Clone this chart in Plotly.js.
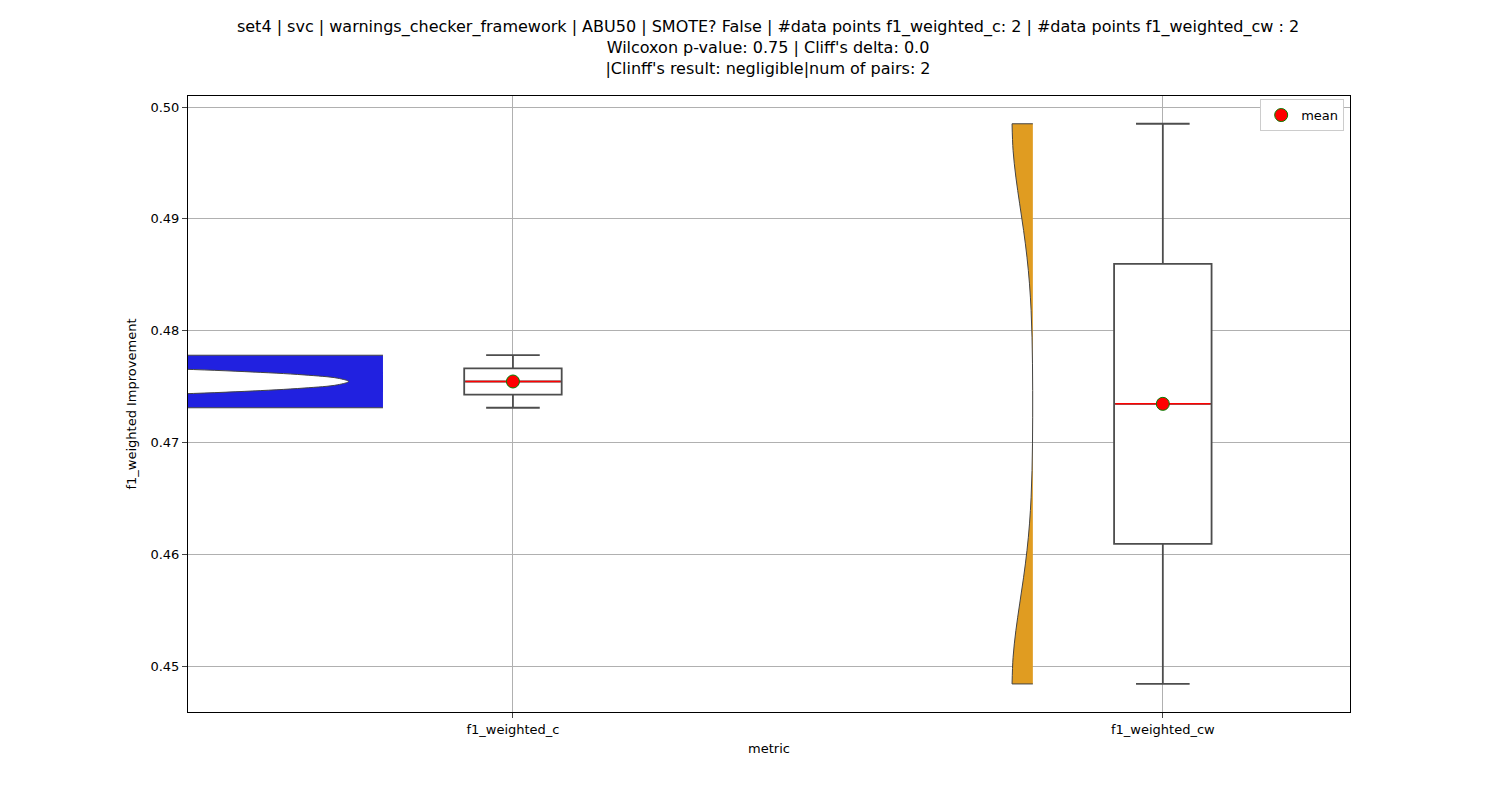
<!DOCTYPE html>
<html><head><meta charset="utf-8">
<script src="https://cdn.plot.ly/plotly-3.0.1.min.js"></script>
<style>body{margin:0}</style></head>
<body><div id="figure" style="width:1500px;height:800px"></div>
<script>
FIGURE = document.getElementById('figure')

let categories = ['f1_weighted_c', 'f1_weighted_cw']
let valuesC = [0.4731, 0.4778]
let valuesCW = [0.4484, 0.4985]
let colours = ['#2121e0', '#e09c21']

function mean(a) { return a.reduce((s, v) => s + v, 0) / a.length }
// linear-interpolated quantile, same as numpy default
function quantile(a, p) {
    let s = [...a].sort((u, v) => u - v)
    let h = (s.length - 1) * p, lo = Math.floor(h), hi = Math.ceil(h)
    return s[lo] + (h - lo) * (s[hi] - s[lo])
}

let series = [valuesC, valuesCW]
let traces = []
series.forEach((vals, i) => {
    traces.push({
        type: 'violin', x: vals.map(() => i - 0.2), y: vals, side: 'negative',
        width: i == 0 ? 1.6 : 0.064, bandwidth: i == 0 ? 0.0009 : 0.0075,
        spanmode: 'hard', points: false, fillcolor: colours[i],
        line: {color: '#444', width: 1}, opacity: 1,
        box: {visible: false}, meanline: {visible: false},
        showlegend: false, hoverinfo: 'skip'
    })
    traces.push({
        type: 'box', x: [i], q1: [quantile(vals, 0.25)], median: [quantile(vals, 0.5)],
        q3: [quantile(vals, 0.75)], lowerfence: [Math.min(...vals)], upperfence: [Math.max(...vals)],
        width: 0.15, whiskerwidth: 0.55,
        fillcolor: 'white', line: {color: '#4d4d4d', width: 1.8},
        showlegend: false
    })
    traces.push({
        type: 'scatter', mode: 'lines', x: [i - 0.073, i + 0.073],
        y: [quantile(vals, 0.5), quantile(vals, 0.5)], line: {color: 'red', width: 1.5},
        showlegend: false, hoverinfo: 'skip'
    })
    traces.push({
        type: 'scatter', mode: 'markers', x: [i], y: [mean(vals)], name: 'mean',
        marker: {color: 'red', size: 13, line: {color: 'green', width: 1}},
        showlegend: i == 0
    })
})

let layout = {
    width: 1500, height: 800,
    margin: {l: 188, r: 150, t: 96, b: 88},
    paper_bgcolor: 'white', plot_bgcolor: 'white',
    font: {family: 'DejaVu Sans', size: 13, color: 'black'},
    title: {
        text: 'set4 | svc | warnings_checker_framework | ABU50 | SMOTE? False | #data points f1_weighted_c: 2 | #data points f1_weighted_cw : 2<br>Wilcoxon p-value: 0.75 | Cliff\'s delta: 0.0<br>|Clinff\'s result: negligible|num of pairs: 2',
        font: {size: 16}, x: 0.512, xanchor: 'center', y: 0.96, yanchor: 'top'
    },
    xaxis: {
        range: [-0.5, 1.288], tickvals: [0, 1], ticktext: categories,
        showgrid: true, gridcolor: '#b0b0b0', zeroline: false,
        showline: true, mirror: true, linecolor: 'black', ticks: 'outside',
        title: {text: 'metric', font: {size: 13}, standoff: 8}
    },
    yaxis: {
        range: [0.44589, 0.500984], dtick: 0.01, tickformat: '.2f',
        showgrid: true, gridcolor: '#b0b0b0', zeroline: false,
        showline: true, mirror: true, linecolor: 'black', ticks: 'outside',
        title: {text: 'f1_weighted Improvement', font: {size: 13}, standoff: 10}
    },
    legend: {x: 0.995, y: 0.995, xanchor: 'right', yanchor: 'top',
        bordercolor: '#ccc', borderwidth: 1, bgcolor: 'white'},
    violinmode: 'overlay', boxmode: 'overlay'
}

Plotly.newPlot(FIGURE, traces, layout, {displayModeBar: false})
</script></body></html>
